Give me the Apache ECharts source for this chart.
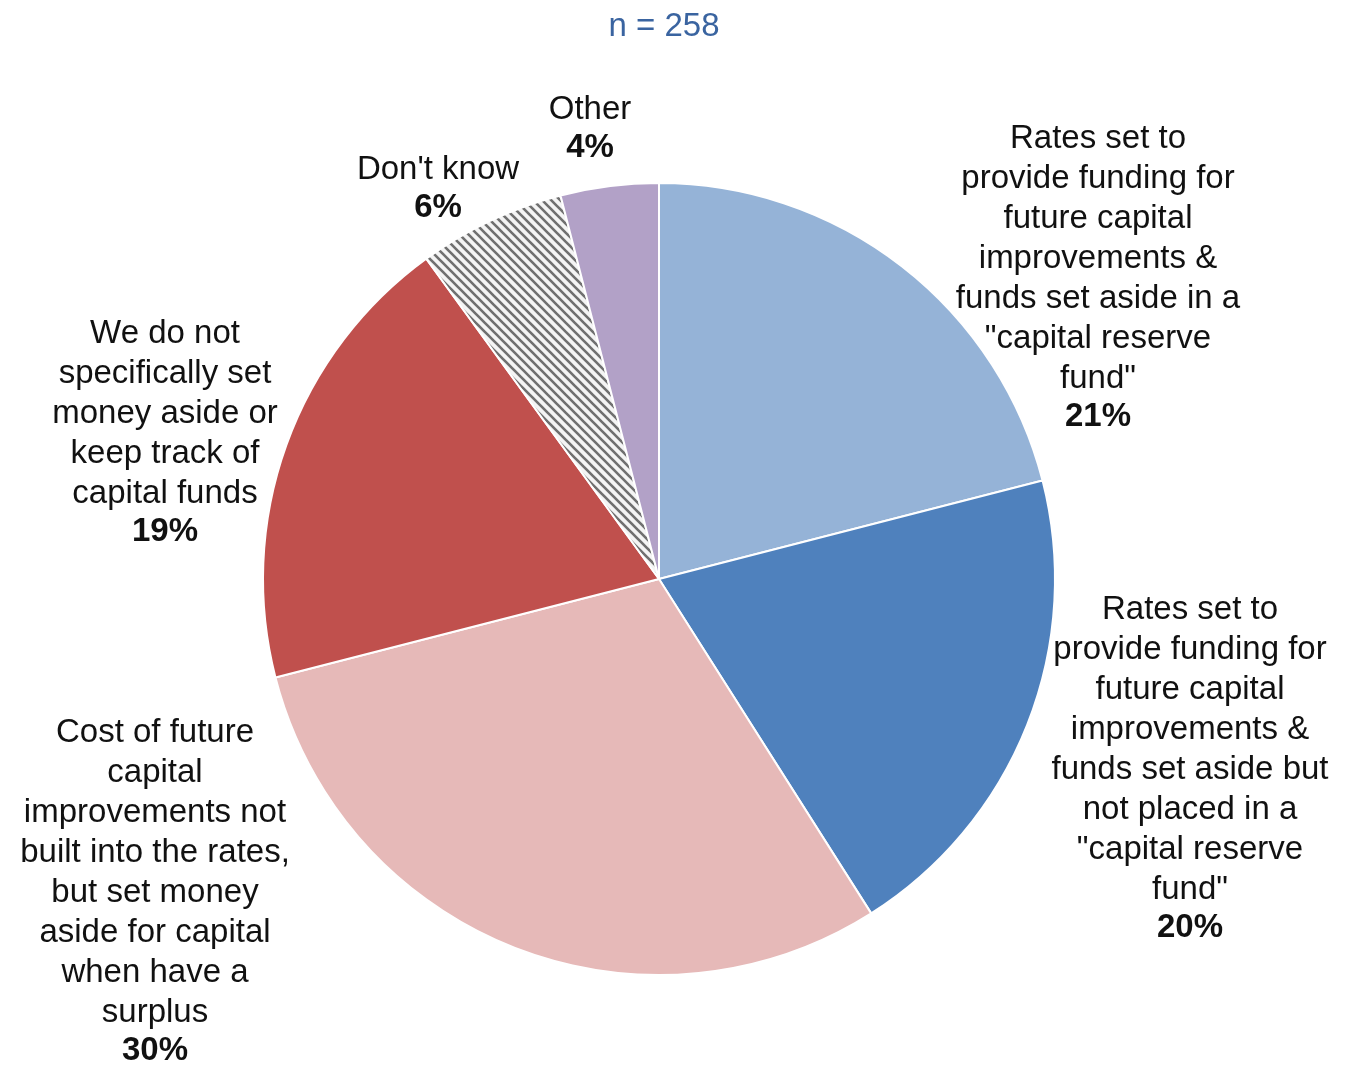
<!DOCTYPE html>
<html>
<head>
<meta charset="utf-8">
<script src="https://cdn.jsdelivr.net/npm/echarts@6/dist/echarts.min.js"></script>
<style>
    html, body { margin: 0; padding: 0; background: #fff; }
    #main { width: 1348px; height: 1065px; }
</style>
</head>
<body>
<div id="main"></div>
<script>
    'use strict';

    var categories = [
        'Rates set to\nprovide funding for\nfuture capital\nimprovements &\nfunds set aside in a\n"capital reserve\nfund"',
        'Rates set to\nprovide funding for\nfuture capital\nimprovements &\nfunds set aside but\nnot placed in a\n"capital reserve\nfund"',
        'Cost of future\ncapital\nimprovements not\nbuilt into the rates,\nbut set money\naside for capital\nwhen have a\nsurplus',
        'We do not\nspecifically set\nmoney aside or\nkeep track of\ncapital funds',
        'Don\'t know',
        'Other'
    ];
    var percents = [21, 20, 30, 19, 6, 4];
    var sampleSize = 258;

    // label centres, px
    var labelPos = [
        [1098, 277],
        [1190, 768],
        [155, 891],
        [165, 432],
        [438, 188],
        [590, 128]
    ];
    var colors = ['#95B3D7', '#4F81BD', '#E6B9B8', '#C0504D', null, '#B2A1C7'];

    // hatch for "Don't know"
    function makeHatch() {
        var c = document.createElement('canvas');
        c.width = 9;
        c.height = 9;
        var ctx = c.getContext('2d');
        ctx.fillStyle = '#f4f4f4';
        ctx.fillRect(0, 0, 9, 9);
        ctx.strokeStyle = '#707070';
        ctx.lineWidth = 2.6;
        ctx.beginPath();
        ctx.moveTo(-2, -2); ctx.lineTo(11, 11);
        ctx.moveTo(-11, -2); ctx.lineTo(2, 11);
        ctx.moveTo(7, -2); ctx.lineTo(20, 11);
        ctx.stroke();
        return c;
    }
    var hatch = { image: makeHatch(), repeat: 'repeat' };

    var pieData = [];
    for (var i = 0; i < categories.length; i++) {
        pieData.push({
            name: categories[i],
            value: percents[i],
            itemStyle: { color: colors[i] || hatch }
        });
    }

    var chart = echarts.init(document.getElementById('main'));
    var option = {
        backgroundColor: '#fff',
        animation: false,
        title: {
            text: 'n = ' + sampleSize,
            left: 659,
            textAlign: 'center',
            top: 5,
            textStyle: {
                fontFamily: 'Liberation Sans',
                fontSize: 33,
                fontWeight: 'normal',
                color: '#3A64A0'
            }
        },
        series: [
            {
                type: 'pie',
                center: [659, 579],
                radius: 396,
                startAngle: 90,
                clockwise: true,
                data: pieData,
                itemStyle: {
                    borderColor: '#fff',
                    borderWidth: 2
                },
                labelLine: { show: false },
                label: {
                    show: true,
                    position: 'outside',
                    overflow: 'none',
                    formatter: function (p) {
                        return '{a|' + p.name.split('\n').join('}\n{a|') + '}\n{b|' + p.value + '%}';
                    },
                    rich: {
                        a: {
                            fontFamily: 'Liberation Sans',
                            fontSize: 33,
                            lineHeight: 40,
                            color: '#111',
                            align: 'center'
                        },
                        b: {
                            fontFamily: 'Liberation Sans',
                            fontSize: 33,
                            fontWeight: 'bold',
                            lineHeight: 37,
                            color: '#111',
                            align: 'center'
                        }
                    }
                },
                labelLayout: function (params) {
                    var pos = labelPos[params.dataIndex];
                    return {
                        x: pos[0],
                        y: pos[1],
                        align: 'center',
                        verticalAlign: 'middle'
                    };
                }
            }
        ]
    };
    chart.setOption(option);
</script>
</body>
</html>
